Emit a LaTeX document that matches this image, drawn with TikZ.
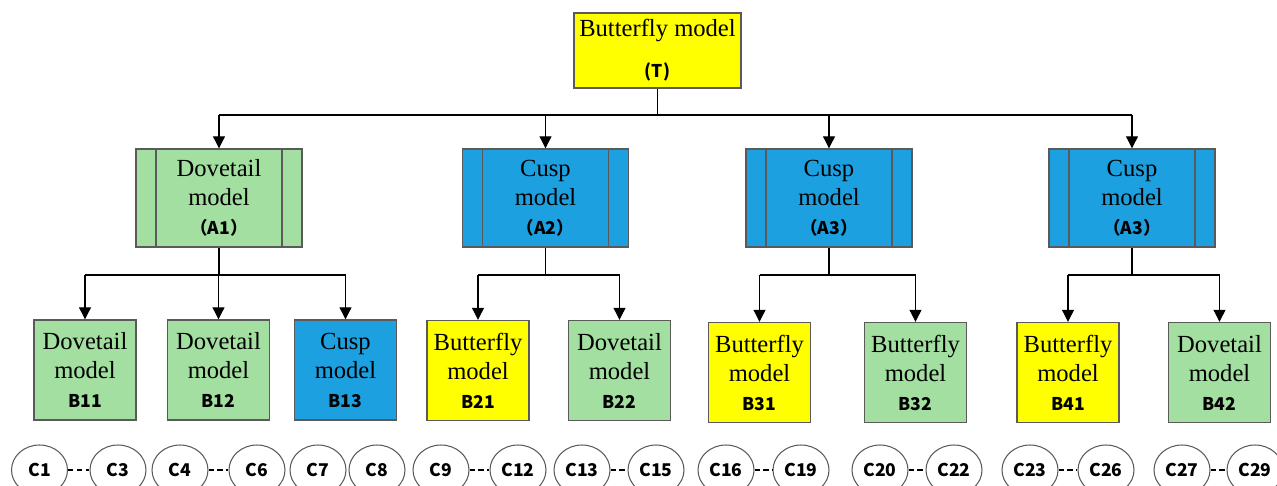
\documentclass[tikz,border=0pt]{standalone}
\usepackage{fontspec}
\setmainfont{Liberation Serif}
\newfontfamily\cjk{Noto Sans CJK SC}
\usetikzlibrary{arrows.meta, shapes.geometric, calc}
\definecolor{yel}{RGB}{255,255,0}
\definecolor{grn}{RGB}{163,223,160}
\definecolor{blu}{RGB}{28,160,224}
\definecolor{edge}{RGB}{90,90,90}
\newcommand{\lab}{\cjk\bfseries\fontsize{10}{12}\selectfont}

\begin{document}
\begin{tikzpicture}[
    x=0.02cm, y=-0.02cm,
    font=\fontsize{14}{16.5}\selectfont,
    box/.style={draw=edge, line width=0.8pt, align=center, inner sep=0pt},
    topbox/.style={box, fill=yel, minimum width=3.34cm, minimum height=1.5cm},
    proc/.style={box, minimum width=3.32cm, minimum height=1.96cm,
        path picture={\draw[edge, line width=0.8pt]
            ([xshift=0.4cm]path picture bounding box.north west) -- ([xshift=0.4cm]path picture bounding box.south west)
            ([xshift=-0.4cm]path picture bounding box.north east) -- ([xshift=-0.4cm]path picture bounding box.south east);}},
    leaf/.style={box, minimum width=2.04cm, minimum height=2cm},
    cnode/.style={ellipse, draw=edge, line width=0.6pt, minimum width=1.12cm, minimum height=1cm, inner sep=0pt, font=\lab},
    link/.style={line width=0.6pt},
    arrow/.style={-{Triangle[length=2.4mm, width=2.4mm]}, line width=0.6pt},
    dots/.style={densely dashed, line width=1.2pt}
]
    \clip (0,0) rectangle (1277,486);

    % Top
    \node[topbox] (T) at (657.5,50.5) {Butterfly model\\[7pt]{\lab (T)}};

    % First level
    \node[proc, fill=grn] (A1) at (219,198) {Dovetail\\model\\{\lab （A1）}};
    \node[proc, fill=blu] (A2) at (545.5,198) {Cusp\\model\\{\lab （A2）}};
    \node[proc, fill=blu] (A3) at (829,198) {Cusp\\model\\{\lab （A3）}};
    \node[proc, fill=blu] (A4) at (1132,198) {Cusp\\model\\{\lab （A3）}};

    % Second level
    \node[leaf, fill=grn] (B11) at (85,370) {Dovetail\\model\\{\lab B11}};
    \node[leaf, fill=grn] (B12) at (218.5,370) {Dovetail\\model\\{\lab B12}};
    \node[leaf, fill=blu] (B13) at (345.5,370) {Cusp\\model\\{\lab B13}};
    \node[leaf, fill=yel] (B21) at (478,370.5) {Butterfly\\model\\{\lab B21}};
    \node[leaf, fill=grn] (B22) at (619.5,370.5) {Dovetail\\model\\{\lab B22}};
    \node[leaf, fill=yel] (B31) at (759.5,372.5) {Butterfly\\model\\{\lab B31}};
    \node[leaf, fill=grn] (B32) at (915.5,372.5) {Butterfly\\model\\{\lab B32}};
    \node[leaf, fill=yel] (B41) at (1068,372.5) {Butterfly\\model\\{\lab B41}};
    \node[leaf, fill=grn] (B42) at (1219.5,372.5) {Dovetail\\model\\{\lab B42}};

    % Bottom level
    \foreach \n/\x in {1/39.5, 3/118, 4/180, 6/257, 7/318, 8/377, 9/441, 12/518, 13/582, 15/656,
        16/726, 19/801, 20/880, 22/954, 23/1030, 26/1106, 27/1182, 29/1255}
        \node[cnode] (C\n) at (\x,470) {C\n};
    \foreach \a/\b in {1/3, 4/6, 9/12, 13/15, 16/19, 20/22, 23/26, 27/29}
        \draw[dots] (C\a) -- (C\b);

    % Connections
    \coordinate (busT) at (657.5,115);
    \draw[link] (T) -- (busT);
    \draw[link] (busT -| A1) -- (busT -| A4);
    \foreach \a in {A1,A2,A3,A4} \draw[arrow] (busT -| \a) -- (\a);

    \coordinate (bus1) at (219,275);
    \coordinate (bus2) at (545.5,275);
    \coordinate (bus3) at (829,275);
    \coordinate (bus4) at (1132,275);
    \draw[link] (A1) -- (bus1); \draw[link] (bus1 -| B11) -- (bus1 -| B13);
    \draw[link] (A2) -- (bus2); \draw[link] (bus2 -| B21) -- (bus2 -| B22);
    \draw[link] (A3) -- (bus3); \draw[link] (bus3 -| B31) -- (bus3 -| B32);
    \draw[link] (A4) -- (bus4); \draw[link] (bus4 -| B41) -- (bus4 -| B42);
    \foreach \b/\u in {B11/bus1, B12/bus1, B13/bus1, B21/bus2, B22/bus2,
        B31/bus3, B32/bus3, B41/bus4, B42/bus4}
        \draw[arrow] (\u -| \b) -- (\b);
\end{tikzpicture}
\end{document}
